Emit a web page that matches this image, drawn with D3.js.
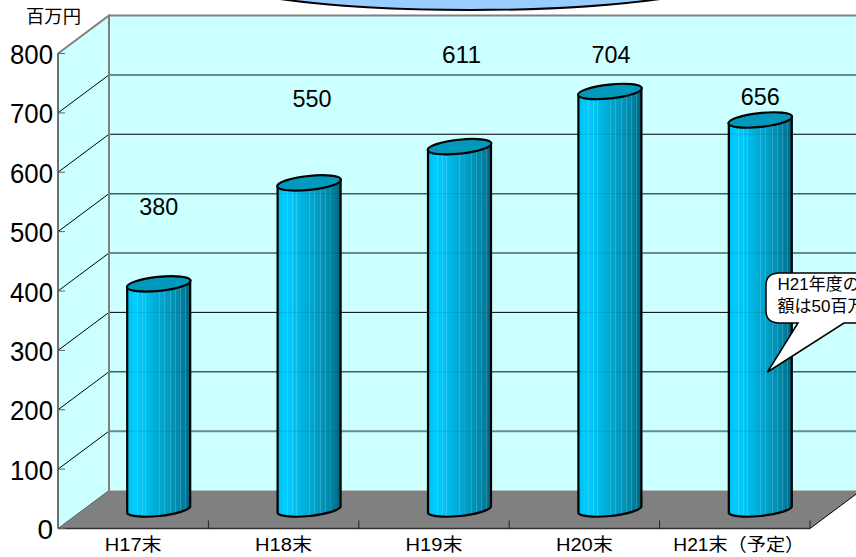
<!DOCTYPE html>
<html><head><meta charset="utf-8">
<style>html,body{margin:0;padding:0;background:#fff;overflow:hidden}svg{display:block}
text{font-family:"Liberation Sans","Noto Sans CJK JP",sans-serif;fill:#000}</style>
<script src="https://cdn.jsdelivr.net/npm/d3@7"></script></head><body>
<svg id="c" width="856" height="557"></svg>
<script>
const categories = ["H17末","H18末","H19末","H20末","H21末(予定)"];
const values = [380,550,611,704,656];
const yTicks = [0,100,200,300,400,500,600,700,800];
const unitLabel = "百万円";
const noteLines = ["H21年度の","額は50百万"];
// hand-placed label offsets from each bar top, pixels
const labelLift = [76,83,91,36,23];
const labelShift = [0,3,2,1,0];

const W=856,H=557;
const depthX=51, depthY=-38;
const svg=d3.select("#c");
const x=d3.scaleBand().domain(categories).range([58,810]);
const y=d3.scaleLinear().domain([0,800]).range([528.5,53.5]);
const bw=63, rx=32, ry=7, tilt=3.3, midX=25.5, midY=-19;
const defs=svg.append("defs");
const base=[[0,"#00b8e8"],[.05,"#00c4f4"],[.1,"#00ccff"],[.26,"#00c4f4"],[.4,"#00b2de"],[.6,"#00a0c8"],[.8,"#008cae"],[.92,"#007896"],[1,"#005f78"]];
const baseColor=d3.scaleLinear().domain(base.map(d=>d[0])).range(base.map(d=>d[1]));
const streaks=[.15,.23,.29,.5,.58,.68,.76,.84,.92];
const g=defs.append("linearGradient").attr("id","bar");
const stopsAt=[];
base.forEach(d=>stopsAt.push([d[0],d[1]]));
streaks.forEach(s=>{
  const hi=d3.interpolateRgb(baseColor(s),"#ffffff")(.16);
  stopsAt.push([s-.001,baseColor(s)],[s,hi],[s+.014,hi],[s+.015,baseColor(s+.015)]);
});
stopsAt.sort((a,b)=>a[0]-b[0]).forEach(s=>g.append("stop").attr("offset",s[0]).attr("stop-color",s[1]));

const right=W+6;
svg.append("rect").attr("x",58+depthX).attr("y",y(800)+depthY).attr("width",right-58-depthX).attr("height",y(0)-y(800)).attr("fill","#ccffff");
svg.append("path").attr("d",`M58,${y(800)}L${58+depthX},${y(800)+depthY}V${y(0)+depthY}L58,${y(0)}Z`).attr("fill","#ccffff");
svg.append("path").attr("d",`M58,${y(0)}L${58+depthX},${y(0)+depthY}H${810+depthX}L810,${y(0)}Z`).attr("fill","#808080");

function gridStyle(t){
  if(t===800) return ["#808080",2];
  if(t===700||t===400||t===100) return ["#6b8a8a",2];
  if(t===600||t===300) return ["#000",1];
  return ["#3f5f5f",1.5];
}
yTicks.filter(t=>t>0).forEach(t=>{
  const s=gridStyle(t);
  svg.append("line").attr("x1",58+depthX).attr("x2",right).attr("y1",y(t)+depthY).attr("y2",y(t)+depthY).attr("stroke",s[0]).attr("stroke-width",s[1]);
  if(t<800) svg.append("line").attr("x1",58).attr("x2",58+depthX).attr("y1",y(t)).attr("y2",y(t)+depthY).attr("stroke","#000").attr("stroke-width",1);
});
svg.append("path").attr("d",`M58,${y(800)}L${58+depthX},${y(800)+depthY}V${y(0)+depthY}`).attr("fill","none").attr("stroke","#808080").attr("stroke-width",2);
svg.append("line").attr("x1",58).attr("x2",58+depthX).attr("y1",y(0)).attr("y2",y(0)+depthY).attr("stroke","#606060").attr("stroke-width",1);
svg.append("line").attr("x1",810).attr("x2",810+depthX).attr("y1",y(0)).attr("y2",y(0)+depthY).attr("stroke","#000").attr("stroke-width",1);

categories.forEach((c,i)=>{
  const cx=x(c)+x.bandwidth()/2+midX;
  const top=y(values[i])+midY, bot=y(0)+midY+.5;
  const l=cx-bw/2, r=cx+bw/2;
  svg.append("path")
    .attr("d",`M${l},${top+tilt}L${l},${bot+tilt}A${rx} ${ry} -6 0 0 ${r},${bot-tilt}L${r},${top-tilt}Z`)
    .attr("fill","url(#bar)").attr("stroke","#000").attr("stroke-width",2.2);
  yTicks.filter(t=>t>0&&y(t)+depthY>top+7).forEach(t=>{
    svg.append("line").attr("x1",l+1).attr("x2",r-1).attr("y1",y(t)+depthY).attr("y2",y(t)+depthY).attr("stroke","#000").attr("stroke-opacity",.1).attr("stroke-width",1);
  });
  svg.append("ellipse").attr("cx",cx).attr("cy",top).attr("rx",rx).attr("ry",ry)
    .attr("transform",`rotate(-6 ${cx} ${top})`).attr("fill","#0099bb").attr("stroke","#000").attr("stroke-width",2.2);
  svg.append("text").attr("x",cx+labelShift[i]).attr("y",top-labelLift[i]+7.5).attr("text-anchor","middle").attr("font-size",24).attr("textLength",39).attr("lengthAdjust","spacingAndGlyphs").text(values[i]);
});

svg.append("line").attr("x1",58).attr("x2",58).attr("y1",y(800)).attr("y2",y(0)).attr("stroke","#404040").attr("stroke-width",1.5);
svg.append("line").attr("x1",58).attr("x2",810).attr("y1",y(0)).attr("y2",y(0)).attr("stroke","#303030").attr("stroke-width",1.5);
yTicks.forEach(t=>{
  svg.append("line").attr("x1",58).attr("x2",65).attr("y1",y(t)).attr("y2",y(t)).attr("stroke","#606060").attr("stroke-width",1);
  const lab=svg.append("text").attr("x",53).attr("y",y(t)+10.5).attr("text-anchor","end").attr("font-size",28).text(t);
  if(t>0) lab.attr("textLength",43).attr("lengthAdjust","spacingAndGlyphs");
});
categories.forEach((c,i)=>{
  const xr=x(c)+x.bandwidth();
  svg.append("line").attr("x1",xr).attr("x2",xr).attr("y1",y(0)).attr("y2",y(0)-8).attr("stroke","#202020").attr("stroke-width",1);
  const mid=x(c)+x.bandwidth()/2+(i<4?0:4);
  svg.append("text").attr("x",mid).attr("y",551).attr("text-anchor","middle").attr("font-size",18)
    .attr("textLength",i<4?57:131).attr("lengthAdjust","spacingAndGlyphs").text(c.replace("(","（").replace(")","）"));
});
svg.append("text").attr("x",26).attr("y",23).attr("font-size",18).attr("textLength",55).attr("lengthAdjust","spacingAndGlyphs").text(unitLabel);

svg.append("ellipse").attr("cx",470).attr("cy",-30).attr("rx",276).attr("ry",40).attr("fill","#99ccff").attr("stroke","#000").attr("stroke-width",2);

svg.append("path").attr("d","M778,273H880V323H844L767.5,372L798,323H778Q766,322 766,311V285Q766,274 778,273Z")
  .attr("fill","#fff").attr("stroke","#000").attr("stroke-width",1.5);
noteLines.forEach((t,i)=>svg.append("text").attr("x",777.5).attr("y",290+i*24-(i?2:0)).attr("font-size",17).attr("font-family",'"Noto Sans CJK JP",sans-serif').text(t));
</script></body></html>
